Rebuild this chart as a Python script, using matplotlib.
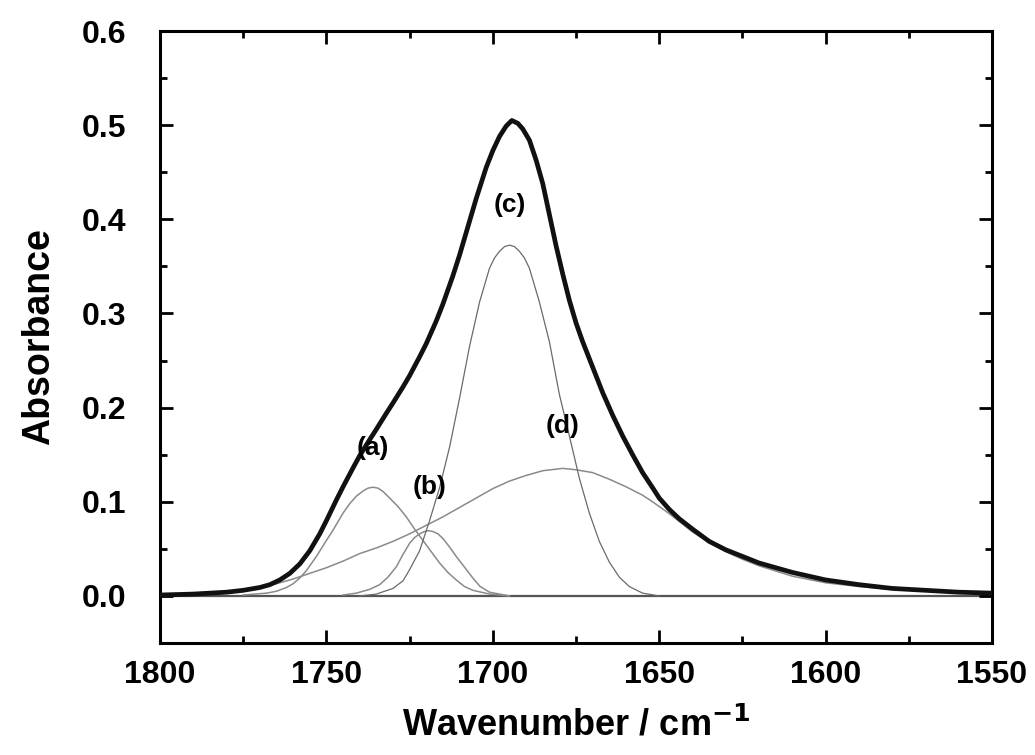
import matplotlib
matplotlib.use("Agg")
import matplotlib.pyplot as plt
from matplotlib.ticker import MultipleLocator

plt.rcParams["font.family"] = ["Liberation Sans", "DejaVu Sans"]
plt.rcParams["font.weight"] = "bold"
plt.rcParams["mathtext.default"] = "bf"

# measured envelope (thick line)
env_x = [1800, 1790, 1780, 1775, 1770, 1767, 1764, 1761, 1758, 1755, 1752, 1750,
         1747, 1745, 1742, 1740, 1737, 1735, 1732, 1730, 1727, 1725, 1722, 1720,
         1717, 1715, 1712, 1710, 1707, 1705, 1702, 1700, 1698, 1696, 1694.3, 1692.5,
         1691, 1689, 1687, 1685, 1683, 1681, 1679, 1677, 1675, 1673, 1670, 1667,
         1664, 1661, 1658, 1655, 1652, 1650, 1647, 1644, 1640, 1635, 1630, 1625,
         1620, 1610, 1600, 1590, 1580, 1570, 1560, 1550]
env_y = [0.001, 0.002, 0.004, 0.006, 0.009, 0.012, 0.017, 0.024, 0.034, 0.048, 0.066, 0.080,
         0.102, 0.116, 0.136, 0.149, 0.166, 0.177, 0.194, 0.205, 0.222, 0.234, 0.254, 0.268,
         0.292, 0.310, 0.340, 0.362, 0.398, 0.422, 0.455, 0.473, 0.488, 0.499, 0.505, 0.502,
         0.496, 0.484, 0.463, 0.438, 0.405, 0.372, 0.342, 0.314, 0.290, 0.270, 0.243, 0.216,
         0.192, 0.170, 0.150, 0.131, 0.115, 0.104, 0.092, 0.082, 0.071, 0.058, 0.049, 0.042,
         0.035, 0.025, 0.017, 0.012, 0.008, 0.006, 0.004, 0.003]

# fitted band (a)
a_x = [1775, 1768, 1765, 1762, 1760, 1758, 1756, 1753, 1750, 1748, 1745, 1743, 1741,
       1739, 1737.5, 1736, 1734.5, 1733, 1731, 1728.5, 1726, 1723.5, 1721, 1718.5, 1716,
       1713.5, 1711, 1708.5, 1706, 1701, 1695]
a_y = [0.001, 0.003, 0.005, 0.009, 0.013, 0.019, 0.027, 0.042, 0.059, 0.070, 0.088, 0.098, 0.106,
       0.1115, 0.1145, 0.1155, 0.1145, 0.111, 0.104, 0.095, 0.084, 0.071, 0.059, 0.047, 0.035,
       0.025, 0.017, 0.010, 0.006, 0.002, 0.000]

# fitted band (b)
b_x = [1745, 1741, 1737, 1734, 1731.5, 1729, 1727, 1725, 1723.5, 1722, 1720.5, 1719.4,
       1718, 1716.5, 1715, 1713, 1711, 1708.6, 1706, 1703.8, 1701, 1695]
b_y = [0.001, 0.003, 0.007, 0.012, 0.020, 0.031, 0.044, 0.056, 0.062, 0.066, 0.0685, 0.0693,
       0.0685, 0.066, 0.061, 0.052, 0.042, 0.031, 0.019, 0.010, 0.004, 0.000]

# fitted band (c)
c_x = [1740, 1735, 1730, 1727, 1725, 1722, 1719, 1716, 1713, 1710, 1707, 1704, 1701,
       1699.5, 1698, 1696.5, 1695, 1693.5, 1692, 1690.5, 1689, 1686, 1683, 1680, 1677,
       1674, 1671, 1668, 1665, 1662, 1659, 1655, 1650]
c_y = [0.000, 0.002, 0.008, 0.016, 0.028, 0.048, 0.080, 0.115, 0.158, 0.210, 0.265, 0.312, 0.348,
       0.359, 0.366, 0.371, 0.3726, 0.371, 0.366, 0.359, 0.348, 0.312, 0.270, 0.214, 0.170,
       0.125, 0.088, 0.058, 0.036, 0.020, 0.010, 0.003, 0.000]

# fitted band (d)
d_x = [1800, 1795, 1790, 1785, 1780, 1775, 1770, 1765, 1760, 1755, 1750, 1745, 1740,
       1735, 1730, 1725, 1720, 1715, 1710, 1705, 1700, 1695, 1690, 1685, 1679, 1675,
       1670, 1665, 1660, 1655, 1652, 1648, 1645, 1640, 1635, 1630, 1625, 1620, 1610,
       1600, 1590, 1580, 1570, 1560, 1550]
d_y = [0.001, 0.001, 0.002, 0.003, 0.004, 0.006, 0.009, 0.013, 0.018, 0.024, 0.030, 0.037, 0.045,
       0.051, 0.058, 0.066, 0.075, 0.084, 0.094, 0.104, 0.114, 0.122, 0.128, 0.133, 0.1355, 0.134,
       0.131, 0.124, 0.116, 0.107, 0.100, 0.090, 0.082, 0.068, 0.057, 0.047, 0.039, 0.032, 0.021,
       0.014, 0.010, 0.007, 0.005, 0.004, 0.003]

band_labels = ["(a)", "(b)", "(c)", "(d)"]
label_x = [1736, 1719, 1695, 1679]
label_y = [0.157, 0.116, 0.415, 0.181]

fig = plt.figure(figsize=(10.35, 7.55), dpi=100)
ax = fig.add_axes([0.1546, 0.1483, 0.8039, 0.8106])

ax.axhline(0.0, color="#555555", lw=1.6, zorder=1)
for xs, ys in [(a_x, a_y), (b_x, b_y), (d_x, d_y)]:
    ax.plot(xs, ys, color="#8a8a8a", lw=1.1, zorder=2)
ax.plot(c_x, c_y, color="#6a6a6a", lw=0.9, zorder=2)
ax.plot(env_x, env_y, color="#111111", lw=3.4, zorder=3,
        solid_capstyle="round", solid_joinstyle="round")

for lab, lx, ly in zip(band_labels, label_x, label_y):
    ax.text(lx, ly, lab, ha="center", va="center", fontsize=19, fontweight="bold", zorder=4)

ax.set_xlim(1800, 1550)
ax.set_ylim(-0.05, 0.6)
ax.xaxis.set_major_locator(MultipleLocator(50))
ax.xaxis.set_minor_locator(MultipleLocator(25))
ax.yaxis.set_major_locator(MultipleLocator(0.1))
ax.yaxis.set_minor_locator(MultipleLocator(0.05))
ax.yaxis.set_major_formatter(plt.FormatStrFormatter("%.1f"))

ax.tick_params(which="both", direction="in", top=True, right=True, width=2.0)
ax.tick_params(which="major", length=9.5, labelsize=23)
ax.tick_params(axis="x", which="major", pad=12)
ax.tick_params(axis="y", which="major", pad=24)
ax.tick_params(which="minor", length=5)
for lbl in ax.get_xticklabels() + ax.get_yticklabels():
    lbl.set_fontweight("bold")
for sp in ax.spines.values():
    sp.set_linewidth(2.2)

ax.set_xlabel("Wavenumber / cm$^{-1}$", fontsize=26, fontweight="bold", labelpad=13)
ax.set_ylabel("Absorbance", fontsize=27, fontweight="bold", labelpad=18)

fig.savefig("out.png", dpi=100)
